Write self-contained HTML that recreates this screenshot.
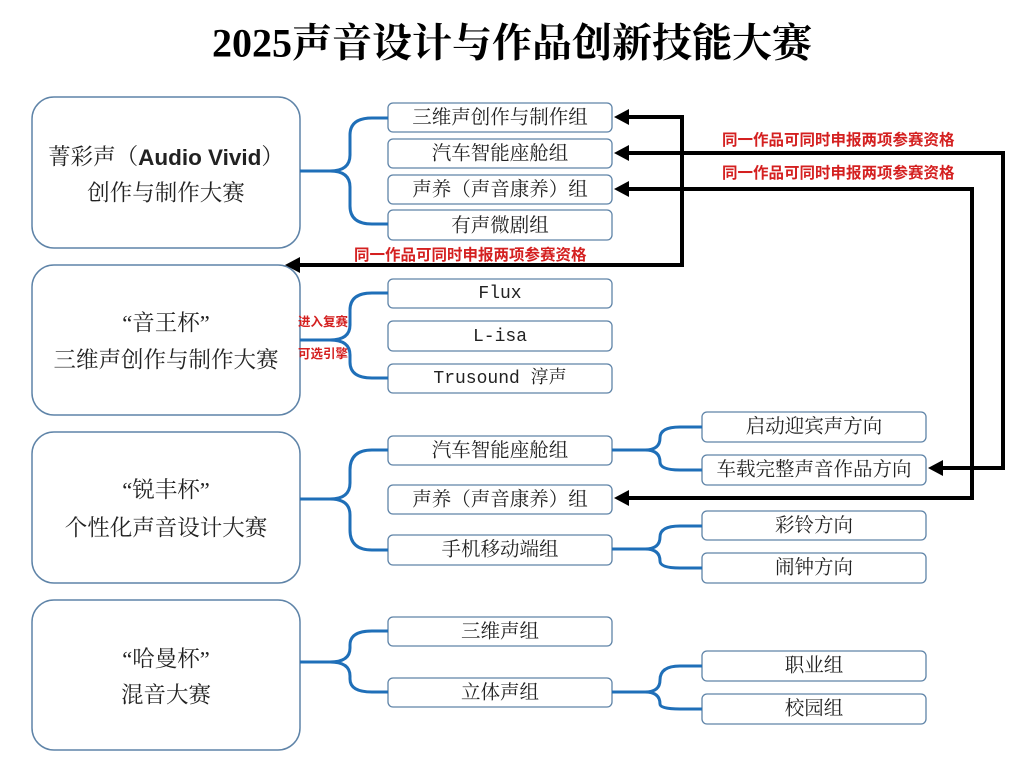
<!DOCTYPE html>
<html><head><meta charset="utf-8"><style>
body{margin:0;background:#fff;}
svg text{font-family:"Liberation Serif","Noto Serif CJK SC",serif;fill:#222;}
.t{font-size:19.5px;text-anchor:middle;dominant-baseline:central;}
.L{font-size:22.5px;text-anchor:middle;dominant-baseline:central;}
.r{font-family:"Liberation Sans","Noto Sans CJK SC",sans-serif !important;fill:#d42020 !important;font-size:15.5px;font-weight:bold;}
.m{font-family:"Liberation Mono","Noto Serif CJK SC",monospace !important;font-size:18px;}
</style></head><body>
<svg width="1024" height="767" viewBox="0 0 1024 767" xmlns="http://www.w3.org/2000/svg">
<text x="512" y="43" style="font-size:40px;font-weight:bold;text-anchor:middle;dominant-baseline:central;fill:#000">2025声音设计与作品创新技能大赛</text>
<g fill="#fff" stroke="#5f84a8" stroke-width="1.5">
<rect x="32" y="97" width="268" height="151" rx="22"/>
<rect x="32" y="265" width="268" height="150" rx="22"/>
<rect x="32" y="432" width="268" height="151" rx="22"/>
<rect x="32" y="600" width="268" height="150" rx="22"/>
<g stroke-width="1.3">
<rect x="388" y="103" width="224" height="29" rx="5"/>
<rect x="388" y="139" width="224" height="29" rx="5"/>
<rect x="388" y="175" width="224" height="29" rx="5"/>
<rect x="388" y="210" width="224" height="30" rx="5"/>
<rect x="388" y="279" width="224" height="29" rx="5"/>
<rect x="388" y="321" width="224" height="30" rx="5"/>
<rect x="388" y="364" width="224" height="29" rx="5"/>
<rect x="388" y="436" width="224" height="29" rx="5"/>
<rect x="388" y="485" width="224" height="29" rx="5"/>
<rect x="388" y="535" width="224" height="30" rx="5"/>
<rect x="388" y="617" width="224" height="29" rx="5"/>
<rect x="388" y="678" width="224" height="29" rx="5"/>
<rect x="702" y="412" width="224" height="30" rx="5"/>
<rect x="702" y="455" width="224" height="30" rx="5"/>
<rect x="702" y="511" width="224" height="29" rx="5"/>
<rect x="702" y="553" width="224" height="30" rx="5"/>
<rect x="702" y="651" width="224" height="30" rx="5"/>
<rect x="702" y="694" width="224" height="30" rx="5"/>
</g></g>
<g fill="none" stroke="#1f6fb8" stroke-width="3">
<path d="M300,171 L330,171 Q350,171 350,155 L350,135 Q350,118 372,118 L388,118 M330,171 Q350,171 350,187 L350,206 Q350,224 372,224 L388,224"/>
<path d="M300,340 L330,340 Q350,340 350,325 L350,310 Q350,293 372,293 L388,293 M330,340 Q350,340 350,355 L350,362 Q350,378 372,378 L388,378"/>
<path d="M300,499 L330,499 Q350,499 350,483 L350,470 Q350,450 372,450 L388,450 M330,499 Q350,499 350,515 L350,530 Q350,550 372,550 L388,550"/>
<path d="M300,662 L330,662 Q350,662 350,648 L350,645 Q350,631 372,631 L388,631 M330,662 Q350,662 350,676 L350,679 Q350,692 372,692 L388,692"/>
<path d="M612,450 L645,450 Q660,450 660,438 Q660,427 680,427 L702,427 M645,450 Q660,450 660,462 Q660,470 680,470 L702,470"/>
<path d="M612,549 L645,549 Q660,549 660,537 Q660,526 680,526 L702,526 M645,549 Q660,549 660,561 Q660,568 680,568 L702,568"/>
<path d="M612,692 L645,692 Q660,692 660,680 Q660,666 680,666 L702,666 M645,692 Q660,692 660,704 Q660,709 680,709 L702,709"/>
</g>
<g fill="none" stroke="#000" stroke-width="4">
<path d="M626,117 L682,117 L682,265 L297,265"/>
<path d="M626,153 L1003,153 L1003,468 L940,468"/>
<path d="M626,189 L972,189 L972,498 L626,498"/>
</g>
<g fill="#000">
<polygon points="614,117 629,109 629,125"/>
<polygon points="614,153 629,145 629,161"/>
<polygon points="614,189 629,181 629,197"/>
<polygon points="614,498 629,490 629,506"/>
<polygon points="285,265 300,257 300,273"/>
<polygon points="928,468 943,460 943,476"/>
</g>
<text class="r" x="722" y="145">同一作品可同时申报两项参赛资格</text>
<text class="r" x="722" y="178">同一作品可同时申报两项参赛资格</text>
<text class="r" x="354" y="260">同一作品可同时申报两项参赛资格</text>
<text class="r" x="298" y="326" style="font-size:12.5px">进入复赛</text>
<text class="r" x="298" y="358" style="font-size:12.5px">可选引擎</text>
<text class="L" x="166" y="157">菁彩声（<tspan style="font-family:'Liberation Sans',sans-serif;font-weight:bold">Audio Vivid</tspan>）</text>
<text class="L" x="166" y="193">创作与制作大赛</text>
<text class="L" x="166" y="323">“音王杯”</text>
<text class="L" x="166" y="360">三维声创作与制作大赛</text>
<text class="L" x="166" y="490">“锐丰杯”</text>
<text class="L" x="166" y="528">个性化声音设计大赛</text>
<text class="L" x="166" y="659">“哈曼杯”</text>
<text class="L" x="166" y="695">混音大赛</text>
<text class="t" x="500" y="118">三维声创作与制作组</text>
<text class="t" x="500" y="154">汽车智能座舱组</text>
<text class="t" x="500" y="190">声养（声音康养）组</text>
<text class="t" x="500" y="226">有声微剧组</text>
<text class="t m" x="500" y="294">Flux</text>
<text class="t m" x="500" y="337">L-isa</text>
<text class="t m" x="500" y="379">Trusound 淳声</text>
<text class="t" x="500" y="451">汽车智能座舱组</text>
<text class="t" x="500" y="500">声养（声音康养）组</text>
<text class="t" x="500" y="550">手机移动端组</text>
<text class="t" x="500" y="632">三维声组</text>
<text class="t" x="500" y="693">立体声组</text>
<text class="t" x="814" y="427">启动迎宾声方向</text>
<text class="t" x="814" y="470">车载完整声音作品方向</text>
<text class="t" x="814" y="526">彩铃方向</text>
<text class="t" x="814" y="568">闹钟方向</text>
<text class="t" x="814" y="666">职业组</text>
<text class="t" x="814" y="709">校园组</text>
</svg>
</body></html>
